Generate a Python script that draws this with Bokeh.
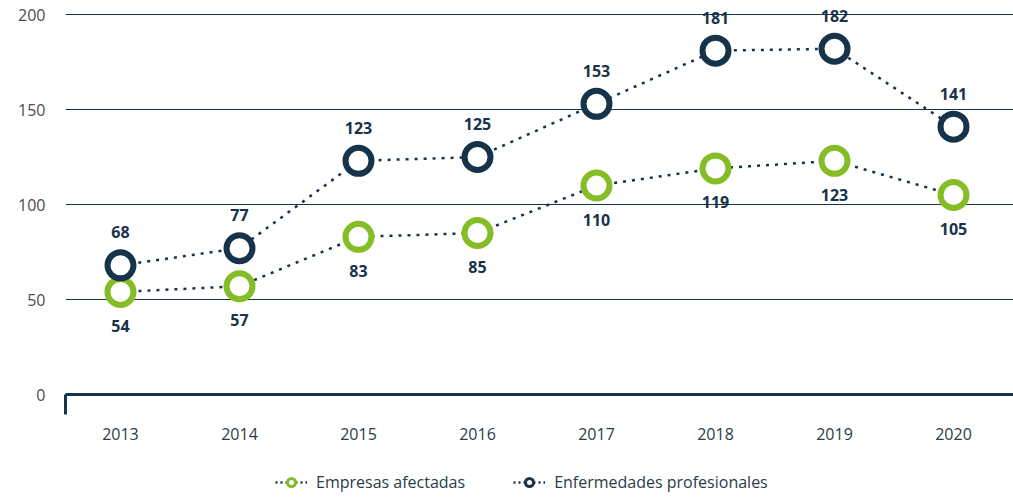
from bokeh.plotting import figure
from bokeh.layouts import column
from bokeh.models import ColumnDataSource, FixedTicker, Legend, LegendItem, Range1d
from bokeh.core.properties import value
from bokeh.embed import file_html
from bokeh.resources import INLINE

years = ["2013", "2014", "2015", "2016", "2017", "2018", "2019", "2020"]
empresas = [54, 57, 83, 85, 110, 119, 123, 105]
enfermedades = [68, 77, 123, 125, 153, 181, 182, 141]
y_ticks = [0, 50, 100, 150, 200]
series_names = ["Empresas afectadas", "Enfermedades profesionales"]

NAVY = "#17334a"
GREEN = "#84bd26"
FONT = "Open Sans"

xs = list(range(len(years)))
src = ColumnDataSource(dict(
    x=xs,
    emp=empresas,
    enf=enfermedades,
    emp_lbl=[str(v) for v in empresas],
    enf_lbl=[str(v) for v in enfermedades],
))

p = figure(width=1013, height=455, output_backend="svg", toolbar_location=None,
           x_range=Range1d(-0.462, 7.504), y_range=Range1d(0, 207.4),
           min_border_left=65, min_border_right=0, min_border_top=0, min_border_bottom=61)
p.outline_line_color = None
p.background_fill_color = "white"
p.border_fill_color = "white"

# grid
p.xgrid.grid_line_color = None
p.ygrid.grid_line_color = NAVY
p.ygrid.grid_line_width = 1
p.ygrid.ticker = FixedTicker(ticks=y_ticks[1:])

# y axis
p.yaxis.ticker = FixedTicker(ticks=y_ticks)
p.yaxis.axis_line_color = None
p.yaxis.major_tick_line_color = None
p.yaxis.minor_tick_line_color = None
p.yaxis.major_tick_out = 0
p.yaxis.major_tick_in = 0
p.yaxis.major_label_standoff = 20
p.yaxis.major_label_text_font = FONT
p.yaxis.major_label_text_font_size = "16px"
p.yaxis.major_label_text_color = "#4d4d4d"

# x axis
p.xaxis.ticker = FixedTicker(ticks=xs, minor_ticks=[-0.462])
p.xaxis.major_label_overrides = {i: y for i, y in enumerate(years)}
p.xaxis.axis_line_color = NAVY
p.xaxis.axis_line_width = 3
p.xaxis.major_tick_out = 0
p.xaxis.major_tick_in = 0
p.xaxis.major_tick_line_color = None
p.xaxis.minor_tick_out = 20
p.xaxis.minor_tick_in = 0
p.xaxis.minor_tick_line_width = 3
p.xaxis.minor_tick_line_color = NAVY
p.xaxis.major_label_standoff = 13
p.xaxis.major_label_text_font = FONT
p.xaxis.major_label_text_font_size = "16px"
p.xaxis.major_label_text_color = "#2b3b47"

# lines
for col in ["emp", "enf"]:
    p.line("x", col, source=src, line_color=NAVY, line_width=2.5, line_dash="3 6")

p.scatter("x", "emp", source=src, size=26, fill_color="white", line_color=GREEN, line_width=6)
p.scatter("x", "enf", source=src, size=26, fill_color="white", line_color=NAVY, line_width=6)

# labels
p.text("x", "enf", text="enf_lbl", source=src, y_offset=-33, text_align="center",
       text_baseline="middle", text_font=value(FONT), text_font_style="bold",
       text_font_size="16px", text_color=NAVY)
p.text("x", "emp", text="emp_lbl", source=src, y_offset=34, text_align="center",
       text_baseline="middle", text_font=value(FONT), text_font_style="bold",
       text_font_size="16px", text_color=NAVY)

# legend figure
lg = figure(width=1013, height=42, output_backend="svg", toolbar_location=None,
            x_range=Range1d(0, 1), y_range=Range1d(0, 1),
            min_border_left=0, min_border_right=0, min_border_top=0, min_border_bottom=0)
lg.axis.visible = False
lg.grid.visible = False
lg.outline_line_color = None

offscreen = ColumnDataSource(dict(x=[-10, -9], y=[-10, -10]))
l1 = lg.line("x", "y", source=offscreen, line_color=NAVY, line_width=2.5, line_dash="2 3")
s1 = lg.scatter("x", "y", source=offscreen, size=9, fill_color="white", line_color=GREEN, line_width=3)
l2 = lg.line("x", "y", source=offscreen, line_color=NAVY, line_width=2.5, line_dash="2 3")
s2 = lg.scatter("x", "y", source=offscreen, size=9, fill_color="white", line_color=NAVY, line_width=3)

legend = Legend(items=[LegendItem(label=series_names[0], renderers=[l1, s1]),
                       LegendItem(label=series_names[1], renderers=[l2, s2])],
                orientation="horizontal", location=(210, 4),
                label_text_font=FONT, label_text_font_size="16px", label_text_color="#2b3b47",
                glyph_width=32, label_standoff=9, spacing=48, border_line_color=None,
                background_fill_alpha=0, padding=0, margin=0)
lg.add_layout(legend, "center")

layout = column(p, lg, spacing=0)
open("out.html", "w").write(file_html(layout, INLINE))
